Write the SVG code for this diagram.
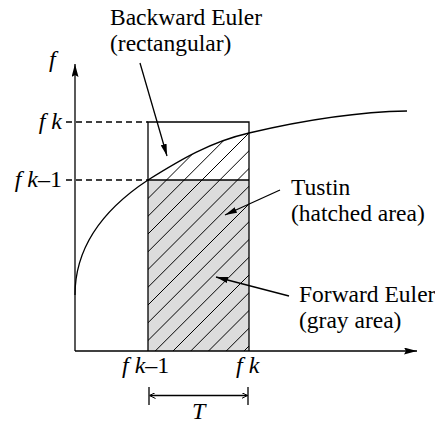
<svg xmlns="http://www.w3.org/2000/svg" width="435" height="426" viewBox="0 0 435 426">
<style>
.ln{stroke:#000;stroke-width:1.3;fill:none}
.hat{stroke:#000;stroke-width:1;fill:none}
.dash{stroke:#000;stroke-width:1.4;stroke-dasharray:6 4;fill:none}
.it{font-style:italic}
</style>
<defs>
<marker id="ah" viewBox="0 0 12 6" refX="12" refY="3" markerWidth="12" markerHeight="6" markerUnits="userSpaceOnUse" orient="auto">
<path d="M0,0 L12,3 L0,6 Z" fill="#000"/>
</marker>
<marker id="axh" viewBox="0 0 13 7" refX="13" refY="3.5" markerWidth="13" markerHeight="7" markerUnits="userSpaceOnUse" orient="auto">
<path d="M0,0 L13,3.5 L0,7 L2,3.5 Z" fill="#000"/>
</marker>
<marker id="oh" viewBox="0 0 6 6" refX="6" refY="3" markerWidth="6" markerHeight="6" markerUnits="userSpaceOnUse" orient="auto">
<path d="M0,0 L6,3 L0,6" fill="none" stroke="#000" stroke-width="1"/>
</marker>
<clipPath id="hclip">
<path d="M148,351 L148,180 C180,160 210,142 249,133 L249,351 Z"/>
</clipPath>
</defs>

<g id="gray-area">
<rect x="148" y="180" width="101" height="171" fill="#dcdcdc"/>
</g>

<g id="hatching" clip-path="url(#hclip)">
<path class="hat" d="M-71.25,400 L228.75,100 M-53.5,400 L246.5,100 M-35.75,400 L264.25,100 M-18,400 L282,100 M-0.25,400 L299.75,100 M17.5,400 L317.5,100 M35.25,400 L335.25,100 M53,400 L353,100 M70.75,400 L370.75,100 M88.5,400 L388.5,100 M106.25,400 L406.25,100 M124,400 L424,100 M141.75,400 L441.75,100 M159.5,400 L459.5,100 M177.25,400 L477.25,100 M195,400 L495,100"/>
</g>

<g id="rectangle">
<path class="ln" d="M148,351 L148,122 L249,122 L249,351 M148,180 L249,180"/>
</g>

<g id="curve">
<path class="ln" d="M75,295 C75,255 95,215 148,180 C180,160 210,142 249,133 C300,121 350,112 407,111"/>
</g>

<g id="axes">
<line class="ln" x1="75" y1="351" x2="75" y2="64" marker-end="url(#axh)"/>
<line class="ln" x1="75" y1="351" x2="417" y2="351" marker-end="url(#axh)"/>
</g>

<g id="connectors">
<line class="dash" x1="66" y1="122" x2="148" y2="122"/>
<line class="dash" x1="66" y1="180" x2="148" y2="180"/>
<line class="ln" x1="140" y1="63" x2="167" y2="156" stroke-width="1.1" marker-end="url(#ah)"/>
<line class="ln" x1="280" y1="190" x2="225" y2="215" stroke-width="1.1" marker-end="url(#ah)"/>
<line class="ln" x1="289" y1="296" x2="216" y2="277" stroke-width="1.1" marker-end="url(#ah)"/>
<line class="ln" x1="149" y1="387" x2="149" y2="405" stroke-width="1.1"/>
<line class="ln" x1="248" y1="387" x2="248" y2="405" stroke-width="1.1"/>
<line class="ln" x1="198" y1="395.5" x2="149.5" y2="395.5" stroke-width="1.1" marker-end="url(#oh)"/>
<line class="ln" x1="198" y1="395.5" x2="247.5" y2="395.5" stroke-width="1.1" marker-end="url(#oh)"/>
</g>

<g font-family="Liberation Serif, DejaVu Serif, serif" font-size="23.5" fill="#000">
<g id="label-backward">
<text x="110" y="25">Backward Euler</text>
<text x="110" y="51">(rectangular)</text>
</g>
<g id="label-tustin">
<text x="291" y="195">Tustin</text>
<text x="291" y="221">(hatched area)</text>
</g>
<g id="label-forward">
<text x="299" y="302">Forward Euler</text>
<text x="299" y="328">(gray area)</text>
</g>
</g>

<g font-family="Liberation Serif, DejaVu Serif, serif" font-size="24" fill="#000">
<g id="label-axis-f">
<text class="it" x="49" y="67">f</text>
</g>
<g id="label-fk-left">
<text x="62" y="129" text-anchor="end"><tspan class="it">f k</tspan></text>
</g>
<g id="label-fk1-left">
<text x="62" y="187" text-anchor="end"><tspan class="it">f k</tspan>–1</text>
</g>
<g id="label-fk1-bottom">
<text x="122" y="373"><tspan class="it">f k</tspan>–1</text>
</g>
<g id="label-fk-bottom">
<text x="236" y="373"><tspan class="it">f k</tspan></text>
</g>
<g id="label-T">
<text class="it" x="192" y="419">T</text>
</g>
</g>
</svg>
